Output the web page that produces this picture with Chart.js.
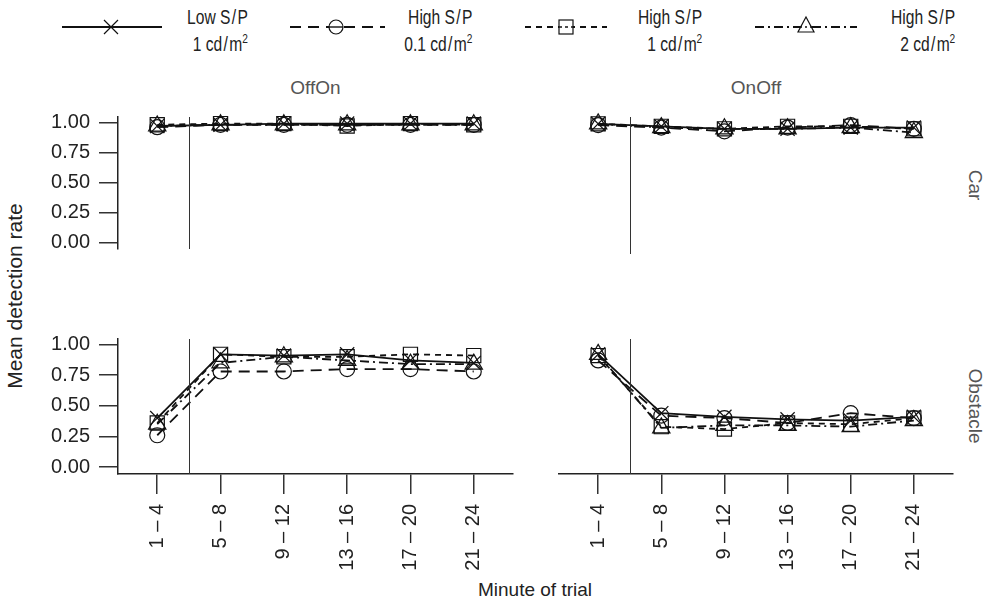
<!DOCTYPE html>
<html>
<head>
<meta charset="utf-8">
<script src="https://cdn.jsdelivr.net/npm/chart.js@4.4.1/dist/chart.umd.min.js"></script>
<style>
  html, body { margin: 0; padding: 0; background: #fff; }
  #wrap { position: relative; width: 986px; height: 604px; font-family: "Liberation Sans", Arial, sans-serif; color: #222; }
  .panel { position: absolute; }
  .txt { position: absolute; white-space: nowrap; }
  .strip { color: #555; font-size: 19px; }
  .leg { position: absolute; text-align: right; font-size: 20px; line-height: 27px; color: #222; transform: scaleX(0.78); transform-origin: right top; }
  sup { font-size: 13px; line-height: 0; vertical-align: 8px; }
</style>
</head>
<body>
<div id="wrap">
  <svg id="legendSvg" width="986" height="60" style="position:absolute;left:0;top:0"></svg>
  <div class="leg" style="right:738px;top:4px">Low S&#8202;/&#8202;P<br>1 cd&#8202;/&#8202;m<sup>2</sup></div>
  <div class="leg" style="right:514px;top:4px">High S&#8202;/&#8202;P<br>0.1 cd&#8202;/&#8202;m<sup>2</sup></div>
  <div class="leg" style="right:284px;top:4px">High S&#8202;/&#8202;P<br>1 cd&#8202;/&#8202;m<sup>2</sup></div>
  <div class="leg" style="right:31px;top:4px">High S&#8202;/&#8202;P<br>2 cd&#8202;/&#8202;m<sup>2</sup></div>

  <div class="txt strip" style="left:118px;width:395px;text-align:center;top:77px">OffOn</div>
  <div class="txt strip" style="left:559px;width:394px;text-align:center;top:77px">OnOff</div>
  <div class="txt strip" style="left:975px;top:185px;transform:translate(-50%,-50%) rotate(90deg)">Car</div>
  <div class="txt strip" style="left:975px;top:406px;transform:translate(-50%,-50%) rotate(90deg)">Obstacle</div>
  <div class="txt" style="left:15px;top:296px;font-size:21px;transform:translate(-50%,-50%) rotate(-90deg)">Mean detection rate</div>
  <div class="txt" style="left:535px;top:590px;font-size:19px;transform:translate(-50%,-50%)">Minute of trial</div>

  <div class="panel" style="left:0;top:95px;width:540px;height:175px"><canvas id="tl"></canvas></div>
  <div class="panel" style="left:540px;top:95px;width:446px;height:175px"><canvas id="tr"></canvas></div>
  <div class="panel" style="left:0;top:317px;width:540px;height:260px"><canvas id="bl"></canvas></div>
  <div class="panel" style="left:540px;top:317px;width:446px;height:260px"><canvas id="br"></canvas></div>
</div>
<script>
// categories (minute of trial)
const categories = ['1 \u2013 4', '5 \u2013 8', '9 \u2013 12', '13 \u2013 16', '17 \u2013 20', '21 \u2013 24'];
const seriesNames = ['Low S/P 1 cd/m2', 'High S/P 0.1 cd/m2', 'High S/P 1 cd/m2', 'High S/P 2 cd/m2'];
const yTicks = [0, 0.25, 0.5, 0.75, 1];

// rows in series order: Low 1, High 0.1, High 1, High 2
const offOnCar = [
  [0.97, 0.98, 0.99, 0.99, 0.99, 0.99],
  [0.96, 0.98, 0.98, 0.98, 0.98, 0.98],
  [0.98, 0.99, 0.99, 0.97, 0.99, 0.98],
  [0.97, 0.98, 0.98, 0.98, 0.98, 0.98]
];
const onOffCar = [
  [0.99, 0.97, 0.95, 0.95, 0.96, 0.96],
  [0.98, 0.96, 0.93, 0.96, 0.98, 0.95],
  [0.99, 0.97, 0.95, 0.97, 0.97, 0.95],
  [0.99, 0.96, 0.95, 0.95, 0.96, 0.92]
];
const offOnObstacle = [
  [0.40, 0.92, 0.91, 0.92, 0.87, 0.85],
  [0.26, 0.78, 0.78, 0.80, 0.80, 0.78],
  [0.36, 0.92, 0.90, 0.90, 0.92, 0.91],
  [0.35, 0.85, 0.90, 0.87, 0.84, 0.84]
];
const onOffObstacle = [
  [0.92, 0.44, 0.41, 0.39, 0.38, 0.41],
  [0.87, 0.42, 0.40, 0.36, 0.44, 0.40],
  [0.91, 0.33, 0.31, 0.36, 0.35, 0.40],
  [0.92, 0.32, 0.34, 0.34, 0.33, 0.38]
];

const styles = [
  { pointStyle: 'crossRot', pointRadius: 10, borderDash: [] },
  { pointStyle: 'circle', pointRadius: 7.5, borderDash: [11, 7] },
  { pointStyle: 'rect', pointRadius: 10, borderDash: [6, 5] },
  { pointStyle: 'triangle', pointRadius: 10, borderDash: [9, 4, 2, 4] }
];

const tickFont = { family: '"Liberation Sans", Arial, sans-serif', size: 20 };

// vertical reference line between the first two periods
const splitLine = {
  id: 'splitLine',
  afterDatasetsDraw(chart) {
    const { ctx, chartArea, scales } = chart;
    const x = Math.round(scales.x.getPixelForValue(0.5)) + 0.5;
    ctx.save();
    ctx.strokeStyle = '#333';
    ctx.lineWidth = 1;
    ctx.beginPath();
    ctx.moveTo(x, chartArea.top);
    ctx.lineTo(x, chartArea.bottom);
    ctx.stroke();
    ctx.restore();
  }
};

function makePanel(id, rows, showX, showY, padding) {
  const ctx = document.getElementById(id).getContext('2d');
  return new Chart(ctx, {
    type: 'line',
    data: {
      datasets: rows.map((vals, k) => ({
        label: seriesNames[k],
        data: vals.map((v, i) => ({ x: i, y: v })),
        borderColor: '#111',
        borderWidth: 1.8,
        borderDash: styles[k].borderDash,
        pointStyle: styles[k].pointStyle,
        pointRadius: styles[k].pointRadius,
        pointBorderColor: '#111',
        pointBorderWidth: 1.2,
        pointBackgroundColor: 'rgba(0,0,0,0)',
        tension: 0,
        clip: false
      }))
    },
    options: {
      responsive: true,
      maintainAspectRatio: false,
      animation: false,
      events: [],
      layout: { padding },
      plugins: { legend: { display: false }, tooltip: { enabled: false } },
      scales: {
        x: {
          type: 'linear',
          display: showX,
          min: -0.62,
          max: 5.62,
          afterBuildTicks: s => { s.ticks = categories.map((c, i) => ({ value: i })); },
          afterFit: s => { if (showX) s.height = 103; },
          ticks: {
            callback: v => categories[v],
            minRotation: 90,
            maxRotation: 90,
            autoSkip: false,
            padding: 10,
            color: '#222',
            font: tickFont
          },
          grid: { drawOnChartArea: false, drawTicks: true, tickLength: 20, color: '#333', lineWidth: 1.5 },
          border: { display: true, color: '#222', width: 1.5 }
        },
        y: {
          display: showY,
          min: -0.056,
          max: 1.045,
          afterBuildTicks: s => { s.ticks = yTicks.map(v => ({ value: v })); },
          afterFit: s => { if (showY) s.width = 118; },
          ticks: {
            callback: v => v.toFixed(2),
            padding: 9,
            color: '#222',
            font: tickFont
          },
          grid: { drawOnChartArea: false, drawTicks: true, tickLength: 19, color: '#333', lineWidth: 1.5 },
          border: { display: true, color: '#222', width: 1.5 }
        }
      }
    },
    plugins: [splitLine]
  });
}

makePanel('tl', offOnCar, false, true, { top: 22, bottom: 16, left: 0, right: 27 });
makePanel('tr', onOffCar, false, false, { top: 22, bottom: 16, left: 19, right: 33 });
makePanel('bl', offOnObstacle, true, true, { top: 22, bottom: 0, left: 0, right: 27 });
makePanel('br', onOffObstacle, true, false, { top: 22, bottom: 0, left: 19, right: 33 });

// legend line samples
const legendSamples = [
  { x1: 62, x2: 162, mx: 111, dash: '' },
  { x1: 290, x2: 385, mx: 336, dash: '11 7' },
  { x1: 525, x2: 607, mx: 566, dash: '6 5' },
  { x1: 755, x2: 857, mx: 806, dash: '9 4 2 4' }
];
const svg = document.getElementById('legendSvg');
const ly = 27;
let out = '';
legendSamples.forEach((s, k) => {
  out += `<line x1="${s.x1}" y1="${ly}" x2="${s.x2}" y2="${ly}" stroke="#111" stroke-width="1.8" stroke-dasharray="${s.dash}"/>`;
  if (k === 0) {
    out += `<path d="M${s.mx - 7} ${ly - 7} L${s.mx + 7} ${ly + 7} M${s.mx - 7} ${ly + 7} L${s.mx + 7} ${ly - 7}" stroke="#111" stroke-width="1.2" fill="none"/>`;
  } else if (k === 1) {
    out += `<circle cx="${s.mx}" cy="${ly}" r="7" stroke="#111" stroke-width="1.2" fill="#fff"/><line x1="${s.mx - 7}" y1="${ly}" x2="${s.mx + 7}" y2="${ly}" stroke="#111" stroke-width="1.4"/>`;
  } else if (k === 2) {
    out += `<rect x="${s.mx - 7}" y="${ly - 7}" width="14" height="14" stroke="#111" stroke-width="1.2" fill="#fff"/><line x1="${s.mx - 7}" y1="${ly}" x2="${s.mx + 7}" y2="${ly}" stroke="#111" stroke-width="1.4" stroke-dasharray="3 3"/>`;
  } else {
    out += `<path d="M${s.mx} ${ly - 10} L${s.mx + 8} ${ly + 5} L${s.mx - 8} ${ly + 5} Z" stroke="#111" stroke-width="1.2" fill="#fff"/><line x1="${s.mx - 6}" y1="${ly}" x2="${s.mx + 6}" y2="${ly}" stroke="#111" stroke-width="1.4" stroke-dasharray="2 3"/>`;
  }
});
svg.innerHTML = out;
</script>
</body>
</html>
